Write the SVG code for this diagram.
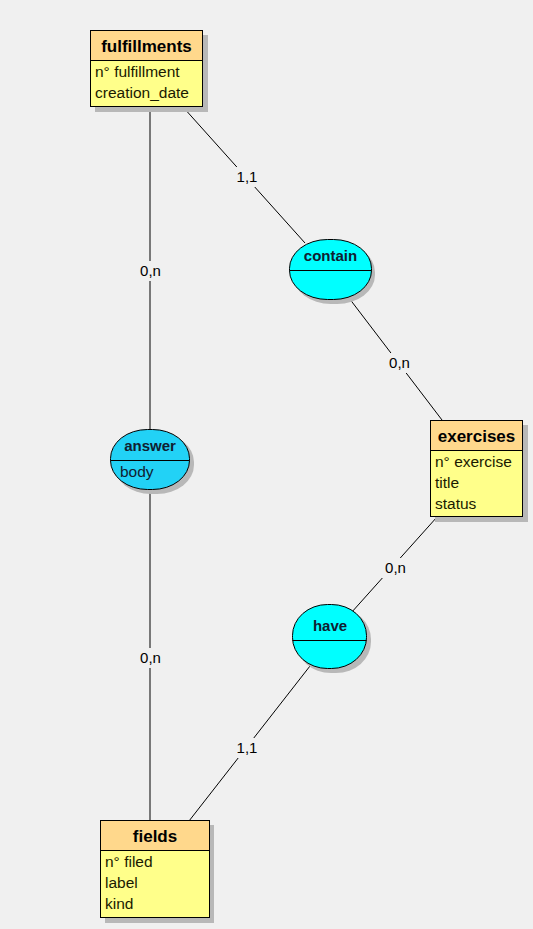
<svg xmlns="http://www.w3.org/2000/svg" width="533" height="929" viewBox="0 0 533 929">
<style>
.bg{fill:#f0f0f0}
.shadow{fill:#b8b8b8}
.hdr{fill:#ffd88c;stroke:none}
.body{fill:#ffff8a;stroke:none}
.frame{fill:none;stroke:#000;stroke-width:1}
.ent{font-family:"Liberation Sans",Arial,sans-serif;font-weight:bold;font-size:17px;fill:#000;text-anchor:middle}
.attr{font-family:"Liberation Sans",Arial,sans-serif;font-size:15.5px;fill:#1a1a00}
.rel{font-family:"Liberation Sans",Arial,sans-serif;font-weight:bold;font-size:15px;fill:#102030;text-anchor:middle}
.rattr{font-family:"Liberation Sans",Arial,sans-serif;font-size:15.5px;fill:#102030}
.card{font-family:"Liberation Sans",Arial,sans-serif;font-size:15px;fill:#000;text-anchor:middle}
.cardbg{fill:#f0f0f0}
.link{stroke:#000;stroke-width:1;fill:none}
.cyan{fill:#00ffff;stroke:#000;stroke-width:1}
.blue{fill:#22d2f6;stroke:#000;stroke-width:1}
</style>
<rect class="bg" x="0" y="0" width="533" height="929"/>
<g id="connectors">
<line class="link" x1="150" y1="107" x2="150" y2="429"/>
<line class="link" x1="150" y1="490" x2="150" y2="821"/>
<line class="link" x1="183" y1="107" x2="305" y2="243"/>
<line class="link" x1="349" y1="298" x2="442" y2="420"/>
<line class="link" x1="437" y1="517" x2="351" y2="613"/>
<line class="link" x1="310" y1="666" x2="189" y2="821"/>
<rect class="cardbg" x="233" y="167" width="28" height="20"/>
<text class="card" x="247" y="182">1,1</text>
<rect class="cardbg" x="136" y="261" width="29" height="20"/>
<text class="card" x="150.5" y="276">0,n</text>
<rect class="cardbg" x="385" y="353" width="29" height="20"/>
<text class="card" x="399.5" y="368">0,n</text>
<rect class="cardbg" x="381" y="558" width="29" height="20"/>
<text class="card" x="395.5" y="573">0,n</text>
<rect class="cardbg" x="136" y="648" width="29" height="20"/>
<text class="card" x="150.5" y="663">0,n</text>
<rect class="cardbg" x="233" y="738" width="28" height="20"/>
<text class="card" x="247" y="753">1,1</text>
</g>
<g id="fulfillments">
<rect class="shadow" x="95" y="35" width="113" height="77"/>
<rect class="hdr" x="90.5" y="30.5" width="112" height="30"/>
<rect class="body" x="90.5" y="60.5" width="112" height="46"/>
<rect class="frame" x="90.5" y="30.5" width="112" height="76"/>
<line class="link" x1="90.5" y1="60.5" x2="202.5" y2="60.5"/>
<text class="ent" x="146.5" y="52">fulfillments</text>
<text class="attr" x="95" y="77">n° fulfillment</text>
<text class="attr" x="95" y="98">creation_date</text>
</g>
<g id="exercises">
<rect class="shadow" x="435" y="425" width="93" height="97"/>
<rect class="hdr" x="430.5" y="420.5" width="92" height="30"/>
<rect class="body" x="430.5" y="450.5" width="92" height="66"/>
<rect class="frame" x="430.5" y="420.5" width="92" height="96"/>
<line class="link" x1="430.5" y1="450.5" x2="522.5" y2="450.5"/>
<text class="ent" x="476.5" y="442">exercises</text>
<text class="attr" x="435" y="467">n° exercise</text>
<text class="attr" x="435" y="488">title</text>
<text class="attr" x="435" y="509">status</text>
</g>
<g id="fields">
<rect class="shadow" x="105" y="825" width="109" height="98"/>
<rect class="hdr" x="100.5" y="820.5" width="109" height="30"/>
<rect class="body" x="100.5" y="850.5" width="109" height="67"/>
<rect class="frame" x="100.5" y="820.5" width="109" height="97"/>
<line class="link" x1="100.5" y1="850.5" x2="209.5" y2="850.5"/>
<text class="ent" x="155" y="842">fields</text>
<text class="attr" x="105" y="867">n° filed</text>
<text class="attr" x="105" y="888">label</text>
<text class="attr" x="105" y="909">kind</text>
</g>
<g id="contain">
<rect class="shadow" x="293" y="243" width="82" height="61" rx="38" ry="29"/>
<rect class="cyan" x="289.5" y="239.5" width="82" height="60" rx="38" ry="29"/>
<line class="link" x1="289.5" y1="270.5" x2="371.5" y2="270.5"/>
<text class="rel" x="330.5" y="261">contain</text>
</g>
<g id="answer">
<rect class="shadow" x="114" y="433" width="80" height="61" rx="37" ry="29"/>
<rect class="blue" x="110.5" y="429.5" width="79" height="60" rx="37" ry="29"/>
<line class="link" x1="110.5" y1="460.5" x2="189.5" y2="460.5"/>
<text class="rel" x="150" y="451">answer</text>
<text class="rattr" x="120" y="477">body</text>
</g>
<g id="have">
<rect class="shadow" x="296" y="608" width="75" height="65" rx="35" ry="31"/>
<rect class="cyan" x="292.5" y="604.5" width="74" height="64" rx="35" ry="31"/>
<line class="link" x1="292.5" y1="640.5" x2="366.5" y2="640.5"/>
<text class="rel" x="330" y="631">have</text>
</g>
</svg>
